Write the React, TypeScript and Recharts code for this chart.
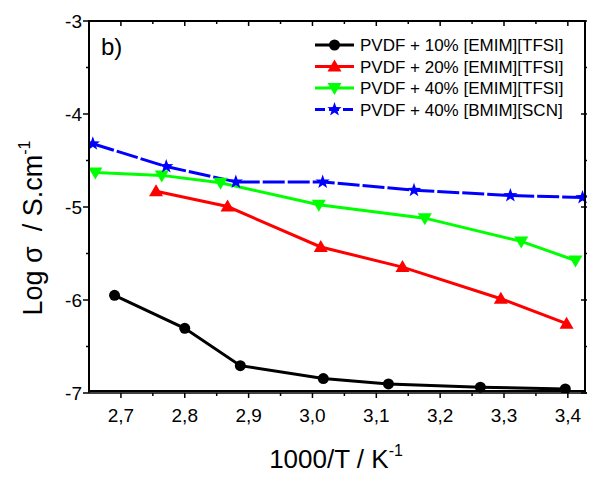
import { LineChart, Line, XAxis, YAxis } from 'recharts';

const FONT = '"Liberation Sans", Arial, Helvetica, sans-serif';

// axis ticks
const xMajorTicks = [2.7, 2.8, 2.9, 3.0, 3.1, 3.2, 3.3, 3.4];
const xMinorTicks = [2.75, 2.85, 2.95, 3.05, 3.15, 3.25, 3.35];
const yMajorTicks = [-7, -6, -5, -4, -3];
const yMinorTicks = [-6.5, -5.5, -4.5, -3.5];

// PVDF + 10% [EMIM][TFSI]
const emim10X = [2.69, 2.8, 2.887, 3.017, 3.119, 3.263, 3.396];
const emim10Y = [-5.95, -6.305, -6.706, -6.845, -6.903, -6.938, -6.956];
// PVDF + 20% [EMIM][TFSI]
const emim20X = [2.755, 2.867, 3.013, 3.141, 3.295, 3.398];
const emim20Y = [-4.83, -4.995, -5.43, -5.646, -5.986, -6.255];
// PVDF + 40% [EMIM][TFSI]
const emim40X = [2.66, 2.764, 2.856, 3.01, 3.176, 3.327, 3.412];
const emim40Y = [-4.63, -4.66, -4.74, -4.976, -5.12, -5.37, -5.575];
// PVDF + 40% [BMIM][SCN]
const bmimX = [2.656, 2.771, 2.88, 3.016, 3.159, 3.31, 3.423];
const bmimY = [-4.32, -4.565, -4.73, -4.73, -4.82, -4.876, -4.898];

// plot box (chart margins), used for the frame
const W = 601;
const H = 477;
const M = { top: 21, right: 14, bottom: 0, left: 0 };
const Y_AXIS_W = 89;
const X_AXIS_H = 84;
const PLOT_TOP = M.top;
const PLOT_RIGHT = W - M.right;
const PLOT_BOTTOM = H - X_AXIS_H;

const toRows = (xs: number[], ys: number[]) => xs.map((x, i) => ({ x, y: ys[i] }));

const isMajor = (list: number[], v: number) => list.some(t => Math.abs(t - v) < 1e-6);

const circle = (cx: number, cy: number, color: string) => <circle cx={cx} cy={cy} r={5.5} fill={color} />;
const triUp = (cx: number, cy: number, color: string) => (
  <path d={`M${cx},${cy - 7} L${cx + 7},${cy + 5} L${cx - 7},${cy + 5} Z`} fill={color} />
);
const triDown = (cx: number, cy: number, color: string) => (
  <path d={`M${cx},${cy + 7} L${cx + 7},${cy - 5} L${cx - 7},${cy - 5} Z`} fill={color} />
);
const star = (cx: number, cy: number, color: string) => {
  const pts: string[] = [];
  for (let i = 0; i < 10; i++) {
    const r = i % 2 === 0 ? 7.5 : 3;
    const a = -Math.PI / 2 + (i * Math.PI) / 5;
    pts.push(`${cx + r * Math.cos(a)},${cy + r * Math.sin(a)}`);
  }
  return <polygon points={pts.join(' ')} fill={color} />;
};

const series = [
  { name: 'PVDF + 10% [EMIM][TFSI]', data: toRows(emim10X, emim10Y), color: '#000000', marker: circle, dash: undefined },
  { name: 'PVDF + 20% [EMIM][TFSI]', data: toRows(emim20X, emim20Y), color: '#ff0000', marker: triUp, dash: undefined },
  { name: 'PVDF + 40% [EMIM][TFSI]', data: toRows(emim40X, emim40Y), color: '#00ff00', marker: triDown, dash: undefined },
  { name: 'PVDF + 40% [BMIM][SCN]', data: toRows(bmimX, bmimY), color: '#0000ff', marker: star, dash: '22 3' },
];

// bottom tick + label, plus the matching inward tick on the top edge
const BottomTick = (p: any) => {
  const v = p.payload.value;
  const major = isMajor(xMajorTicks, v);
  const len = major ? 5 : 3;
  return (
    <g>
      <line x1={p.x} x2={p.x} y1={p.y} y2={p.y + len} stroke="#000" strokeWidth={1.5} />
      <line x1={p.x} x2={p.x} y1={PLOT_TOP} y2={PLOT_TOP + len} stroke="#000" strokeWidth={1.5} />
      {major && (
        <text x={p.x} y={p.y + 29} textAnchor="middle" fontSize={19} fontFamily={FONT} fill="#000">
          {v.toFixed(1).replace('.', ',')}
        </text>
      )}
    </g>
  );
};

// left tick + label, plus the matching inward tick on the right edge
const LeftTick = (p: any) => {
  const v = p.payload.value;
  const major = isMajor(yMajorTicks, v);
  const len = major ? 6 : 3;
  return (
    <g>
      <line x1={p.x - len} x2={p.x} y1={p.y} y2={p.y} stroke="#000" strokeWidth={1.5} />
      <line x1={PLOT_RIGHT - len} x2={PLOT_RIGHT} y1={p.y} y2={p.y} stroke="#000" strokeWidth={1.5} />
      {major && (
        <text x={p.x - 7} y={p.y + 6.5} textAnchor="end" fontSize={19} fontFamily={FONT} fill="#000">
          {String(v)}
        </text>
      )}
    </g>
  );
};

const xTicks = [...xMajorTicks, ...xMinorTicks].sort((a, b) => a - b);
const yTicks = [...yMajorTicks, ...yMinorTicks].sort((a, b) => a - b);
const xDomain = [2.65, 3.43];
const yDomain = [-7, -3];
const axisLine = { stroke: '#000', strokeWidth: 1.5 };

export default function App() {
  return (
    <div style={{ position: 'absolute', left: 0, top: 0, width: W, height: H, background: '#fff' }}>
      <LineChart width={W} height={H} margin={M}>
        <XAxis
          xAxisId="b"
          dataKey="x"
          type="number"
          domain={xDomain}
          ticks={xTicks}
          allowDataOverflow
          height={X_AXIS_H}
          tickSize={0}
          tickMargin={0}
          tickLine={false}
          axisLine={axisLine}
          tick={BottomTick}
          interval={0}
        />
        <YAxis
          yAxisId="l"
          type="number"
          domain={yDomain}
          ticks={yTicks}
          allowDataOverflow
          width={Y_AXIS_W}
          tickSize={0}
          tickMargin={0}
          tickLine={false}
          axisLine={axisLine}
          tick={LeftTick}
          interval={0}
        />
        {series.map(s => (
          <Line
            key={s.name}
            xAxisId="b"
            yAxisId="l"
            data={s.data}
            dataKey="y"
            name={s.name}
            stroke={s.color}
            strokeWidth={3}
            strokeDasharray={s.dash}
            isAnimationActive={false}
            dot={(p: any) => <g key={`${s.name}-${p.index}`}>{s.marker(p.cx, p.cy, s.color)}</g>}
            activeDot={false}
          />
        ))}
      </LineChart>
      {/* plot frame as a plain bordered box */}
      <div
        style={{
          position: 'absolute',
          left: Y_AXIS_W - 1,
          top: PLOT_TOP - 1,
          width: PLOT_RIGHT - Y_AXIS_W,
          height: PLOT_BOTTOM - PLOT_TOP,
          border: '2px solid #000',
          boxSizing: 'border-box',
          pointerEvents: 'none',
        }}
      />
      <svg
        width={W}
        height={H}
        style={{ position: 'absolute', left: 0, top: 0, pointerEvents: 'none' }}
        fontFamily={FONT}
      >
        <text x={101} y={55} fontSize={24} fill="#000">b)</text>
        {series.map((s, i) => {
          const cy = 45 + i * 21.5;
          return (
            <g key={s.name}>
              <line x1={315} x2={354} y1={cy} y2={cy} stroke={s.color} strokeWidth={3} strokeDasharray={s.dash ? '10 4' : undefined} />
              {s.marker(334.5, cy, s.color)}
              <text x={360} y={cy + 6} fontSize={17} fill="#000">{s.name}</text>
            </g>
          );
        })}
        <text x={336} y={468} fontSize={26} textAnchor="middle" fill="#000">
          1000/T / K<tspan fontSize={16} dy={-12}>-1</tspan>
        </text>
        <text
          transform="translate(42, 228) rotate(-90)"
          fontSize={27}
          textAnchor="middle"
          fill="#000"
          style={{ whiteSpace: 'pre' }}
        >
          Log σ  / S.cm<tspan fontSize={16} dy={-12}>-1</tspan>
        </text>
      </svg>
    </div>
  );
}
